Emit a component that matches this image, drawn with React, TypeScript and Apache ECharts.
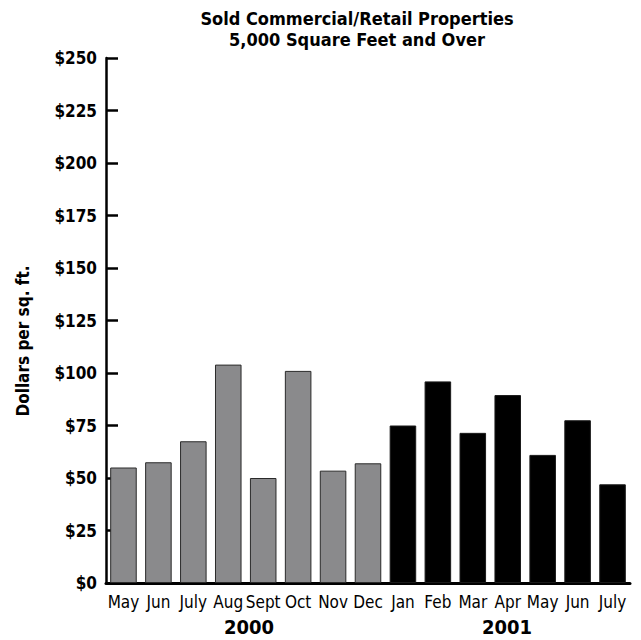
import React, { useEffect, useRef } from "react";
import * as echarts from "echarts";

const months = ["May", "Jun", "July", "Aug", "Sept", "Oct", "Nov", "Dec", "Jan", "Feb", "Mar", "Apr", "May", "Jun", "July"];
const years = ["2000", "2000", "2000", "2000", "2000", "2000", "2000", "2000", "2001", "2001", "2001", "2001", "2001", "2001", "2001"];
const values = [55, 57.5, 67.5, 104, 50, 101, 53.5, 57, 75, 96, 71.5, 89.5, 61, 77.5, 47];
const yTicks = [0, 25, 50, 75, 100, 125, 150, 175, 200, 225, 250];

const FONT = "'DejaVu Sans Condensed', 'Liberation Sans Narrow', 'Liberation Sans', sans-serif";

export default function App() {
  const ref = useRef<HTMLDivElement>(null);
  useEffect(() => {
    if (!ref.current) return;
    const chart = echarts.init(ref.current, undefined, { renderer: "svg" });
    const data = values.map((v, i) => ({
      value: v,
      itemStyle:
        years[i] === "2000"
          ? { color: "#8a8a8c", borderColor: "#2a2a2a", borderWidth: 1 }
          : { color: "#000000", borderColor: "#1a1a1a", borderWidth: 1 },
    }));
    chart.setOption({
      animation: false,
      backgroundColor: "#ffffff",
      grid: { left: 106, right: 11, top: 58, bottom: 57 },
      xAxis: {
        type: "category",
        data: months,
        axisLine: { show: true, lineStyle: { color: "#000", width: 3 } },
        axisTick: { show: false },
        axisLabel: { fontFamily: FONT, fontSize: 17, color: "#000", margin: 10, interval: 0 },
      },
      yAxis: {
        type: "value",
        min: yTicks[0],
        max: yTicks[yTicks.length - 1],
        interval: 25,
        splitLine: { show: false },
        axisLine: { show: true, lineStyle: { color: "#000", width: 2.5 } },
        axisTick: { show: true, inside: true, length: 12, lineStyle: { color: "#000", width: 2.5 } },
        axisLabel: {
          fontFamily: FONT,
          fontSize: 17,
          fontWeight: "bold",
          color: "#000",
          margin: 9,
          formatter: (v: number) => "$" + v,
        },
      },
      series: [
        {
          type: "bar",
          data,
          barCategoryGap: "24%",
        },
      ],
      graphic: [
        {
          type: "text",
          x: 357,
          y: 8,
          style: {
            text: "Sold Commercial/Retail Properties\n5,000 Square Feet and Over",
            fontFamily: FONT,
            fontSize: 18,
            fontWeight: "bold",
            lineHeight: 21,
            fill: "#000",
            align: "center",
          },
        },
        {
          type: "text",
          x: 23,
          y: 341,
          rotation: Math.PI / 2,
          style: {
            text: "Dollars per sq. ft.",
            fontFamily: FONT,
            fontSize: 17,
            fontWeight: "bold",
            fill: "#000",
            align: "center",
            verticalAlign: "middle",
          },
        },
        {
          type: "text",
          x: 249,
          y: 617,
          style: { text: "2000", fontFamily: FONT, fontSize: 20, fontWeight: "bold", fill: "#000", align: "center" },
        },
        {
          type: "text",
          x: 507,
          y: 617,
          style: { text: "2001", fontFamily: FONT, fontSize: 20, fontWeight: "bold", fill: "#000", align: "center" },
        },
      ],
    });
    return () => chart.dispose();
  }, []);
  return <div ref={ref} style={{ width: 641, height: 640, position: "absolute", left: 0, top: 0 }} />;
}
